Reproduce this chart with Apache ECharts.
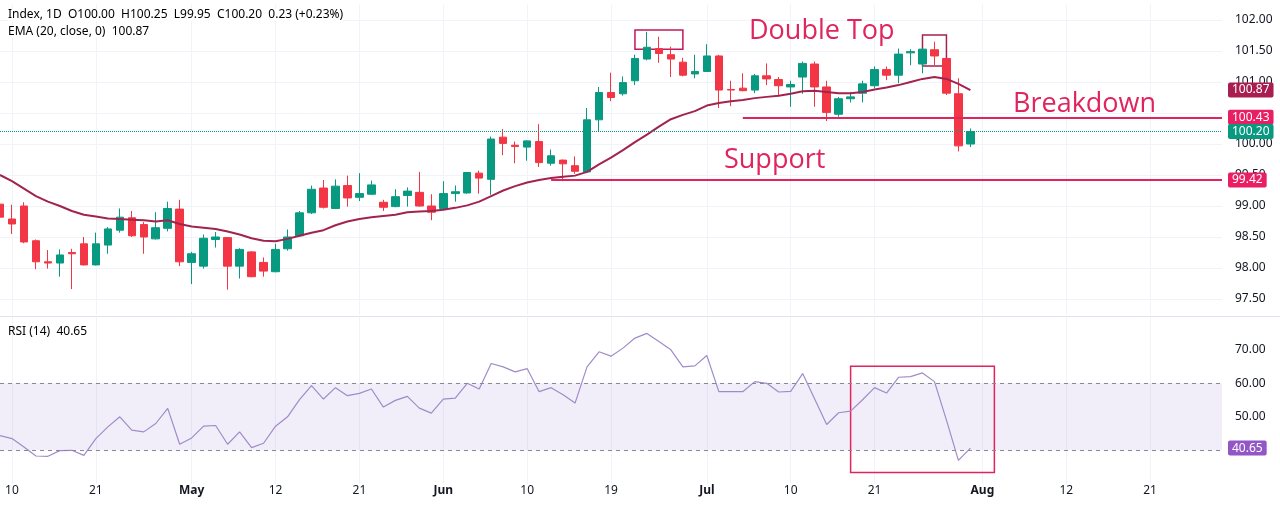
<!DOCTYPE html>
<html><head><meta charset="utf-8">
<script src="https://cdn.jsdelivr.net/npm/echarts@6/dist/echarts.min.js"></script>
<style>html,body{margin:0;padding:0;background:#fff}#c{width:1280px;height:505px}</style>
</head><body><div id="c"></div><script>
// ---- categories (trading days, 2026) ----
const dates = [
'2026-04-09','2026-04-10','2026-04-13','2026-04-14','2026-04-15','2026-04-16','2026-04-17','2026-04-20','2026-04-21','2026-04-22','2026-04-23','2026-04-24','2026-04-27','2026-04-28','2026-04-29','2026-04-30',
'2026-05-01','2026-05-04','2026-05-05','2026-05-06','2026-05-07','2026-05-08','2026-05-11','2026-05-12','2026-05-13','2026-05-14','2026-05-15','2026-05-18','2026-05-19','2026-05-20','2026-05-21','2026-05-22','2026-05-25','2026-05-26','2026-05-27','2026-05-28','2026-05-29',
'2026-06-01','2026-06-02','2026-06-03','2026-06-04','2026-06-05','2026-06-08','2026-06-09','2026-06-10','2026-06-11','2026-06-12','2026-06-15','2026-06-16','2026-06-17','2026-06-18','2026-06-19','2026-06-22','2026-06-23','2026-06-24','2026-06-25','2026-06-26','2026-06-29','2026-06-30',
'2026-07-01','2026-07-02','2026-07-03','2026-07-06','2026-07-07','2026-07-08','2026-07-09','2026-07-10','2026-07-13','2026-07-14','2026-07-15','2026-07-16','2026-07-17','2026-07-20','2026-07-21','2026-07-22','2026-07-23','2026-07-24','2026-07-27','2026-07-28','2026-07-29','2026-07-30','2026-07-31',
'2026-08-03','2026-08-04','2026-08-05','2026-08-06','2026-08-07','2026-08-10','2026-08-11','2026-08-12','2026-08-13','2026-08-14','2026-08-17','2026-08-18','2026-08-19','2026-08-20','2026-08-21','2026-08-24','2026-08-25','2026-08-26','2026-08-27','2026-08-28','2026-08-31'
];
const xLabels = {'2026-04-10':'10','2026-04-21':'21','2026-05-01':'May','2026-05-12':'12','2026-05-21':'21','2026-06-01':'Jun','2026-06-10':'10','2026-06-19':'19','2026-07-01':'Jul','2026-07-10':'10','2026-07-21':'21','2026-08-03':'Aug','2026-08-12':'12','2026-08-21':'21'};

// ---- OHLC ----
const opens  = [99.03,98.79,99.00,98.44,98.10,98.08,98.25,98.39,98.05,98.37,98.61,98.81,98.70,98.47,98.64,98.95,98.09,98.03,98.46,98.49,98.03,98.26,98.09,97.94,98.31,98.52,98.89,99.29,98.96,99.33,99.14,99.19,99.06,98.99,99.17,99.22,99.00,98.96,99.20,99.21,99.53,99.43,100.11,99.98,99.95,100.04,99.69,99.74,99.65,99.55,100.39,100.83,100.81,101.02,101.37,101.54,101.44,101.32,101.13,101.17,101.42,100.88,100.90,100.87,101.10,101.04,100.92,101.08,101.29,100.92,100.48,100.73,100.82,100.94,101.20,101.11,101.47,101.29,101.52,101.38,100.81,100.00];
const highs  = [99.06,99.02,99.06,98.46,98.29,98.30,98.31,98.50,98.57,98.66,98.96,98.92,98.74,98.90,99.07,99.10,98.26,98.54,98.58,98.50,98.32,98.27,98.17,98.39,98.62,98.92,99.33,99.42,99.43,99.49,99.53,99.41,99.10,99.27,99.30,99.55,99.19,99.40,99.33,99.55,99.57,100.12,100.24,100.04,100.06,100.32,99.91,99.75,99.80,100.58,100.92,101.15,101.09,101.44,101.81,101.73,101.57,101.39,101.44,101.61,101.44,101.02,101.14,101.13,101.30,101.08,101.02,101.33,101.33,101.02,100.76,100.84,101.02,101.25,101.25,101.54,101.53,101.54,101.65,101.39,101.06,100.25];
const lows   = [98.80,98.55,98.40,97.98,97.99,97.86,97.66,98.04,98.04,98.23,98.57,98.50,98.23,98.46,98.59,98.03,97.74,97.99,98.33,97.65,97.83,97.85,97.86,97.93,98.28,98.50,98.87,98.96,98.95,98.99,99.08,99.18,98.92,98.98,98.99,98.99,98.77,98.95,99.07,99.20,99.20,99.18,99.82,99.69,99.73,99.63,99.65,99.40,99.52,99.53,100.21,100.69,100.78,100.95,101.35,101.31,101.08,101.09,101.06,101.16,100.58,100.61,100.85,100.82,100.95,100.77,100.60,100.81,100.60,100.37,100.44,100.67,100.67,100.90,101.03,100.98,101.27,101.14,101.27,100.79,99.88,99.95];
const closes = [98.82,98.71,98.42,98.10,98.08,98.21,98.23,98.05,98.39,98.63,98.82,98.52,98.50,98.65,98.96,98.10,98.23,98.48,98.50,98.03,98.30,97.86,97.95,98.30,98.50,98.89,99.27,98.98,99.32,99.13,99.20,99.34,98.98,99.15,99.24,99.00,98.90,99.20,99.23,99.54,99.45,100.08,100.01,99.96,100.05,99.70,99.81,99.68,99.56,100.39,100.83,100.75,100.99,101.38,101.56,101.46,101.37,101.11,101.17,101.42,100.87,100.87,100.86,101.10,101.05,100.94,100.96,101.30,100.92,100.51,100.73,100.76,100.97,101.20,101.11,101.45,101.49,101.53,101.42,100.82,99.97,100.20];

// ---- indicators ----
const ema20 = [99.50,99.40,99.28,99.16,99.07,99.00,98.92,98.86,98.83,98.80,98.79,98.78,98.77,98.75,98.77,98.71,98.67,98.65,98.63,98.59,98.54,98.48,98.44,98.43,98.47,98.52,98.57,98.61,98.69,98.75,98.79,98.82,98.84,98.86,98.90,98.91,98.92,98.94,98.97,99.01,99.07,99.16,99.25,99.32,99.38,99.42,99.45,99.47,99.49,99.55,99.67,99.78,99.90,100.03,100.15,100.28,100.40,100.47,100.53,100.62,100.66,100.69,100.71,100.74,100.76,100.78,100.81,100.85,100.86,100.84,100.82,100.82,100.84,100.88,100.91,100.95,101.00,101.05,101.08,101.05,100.97,100.87];
const rsi14 = [44.4,43.5,41.0,38.3,38.2,39.9,40.0,38.5,43.5,47.0,50.0,46.0,45.5,48.0,52.5,41.8,43.7,47.2,47.4,41.8,45.5,40.8,42.1,47.2,50.0,55.1,59.3,55.3,58.7,56.3,57.0,58.3,52.9,54.9,56.1,52.6,51.1,55.3,55.6,60.0,58.3,65.9,64.9,63.4,64.4,57.5,58.7,56.6,54.1,64.9,69.4,68.1,70.5,73.5,74.9,72.5,70.0,64.9,65.2,68.3,57.5,57.5,57.5,60.5,60.0,57.4,57.6,62.9,55.3,47.7,51.2,51.7,55.1,58.7,57.1,61.8,62.0,63.1,60.5,49.0,37.0,40.65];

// ---- ticks & annotation levels ----
const priceTicks = [97.5,98,98.5,99,99.5,100,101,101.5,102];
const rsiTicks = [50,60,70];
const rsiBand = [40,60];
const supportLevel = 99.42, supportFrom = '2026-06-12';
const breakdownLevel = 100.43, breakdownFrom = '2026-07-06';
const box1 = [['2026-06-23',101.84],['2026-06-29',101.53]];
const box2 = [['2026-07-27',101.76],['2026-07-29',101.26]];
const rsiBox = [['2026-07-17',65.1],['2026-08-04',33.4]];

const GREEN='#089981', RED='#F23645', PINK='#e0245e', EMA_C='#a3234f', RSI_C='#a08bc9', RSI_LBL='#9256c6';
const CLEAR='rgba(0,0,0,0)';
const FONT='Noto Sans';
const n = closes.length;
const last = n-1;
const candles = opens.map((o,i)=>[o,closes[i],lows[i],highs[i]]);
const lastDate = dates[dates.length-1];
const chg = closes[last]-closes[last-1];
const chgPct = chg/closes[last-1]*100;

function xlab(v){const t=xLabels[v]; if(!t) return ''; return isNaN(+t)?'{b|'+t+'}':t;}
function isLab(i,v){return Object.prototype.hasOwnProperty.call(xLabels,v);}
function lvlLabel(txt,bg){return {show:true,position:'end',distance:6,formatter:()=>txt,color:'#fff',backgroundColor:bg,padding:[2,4,1,4],borderRadius:2,fontSize:12,fontFamily:FONT,opacity:1};}

const chart = echarts.init(document.getElementById('c'));
chart.setOption({
  animation:false,
  backgroundColor:'#ffffff',
  textStyle:{fontFamily:FONT},
  grid:[
    {left:0,right:58,top:4.5,height:310},
    {left:0,right:58,top:316.3,height:167.5}
  ],
  xAxis:[
    {type:'category',gridIndex:0,data:dates,boundaryGap:false,axisLine:{show:false},axisTick:{show:false},axisLabel:{show:false},
     splitLine:{show:true,interval:isLab,lineStyle:{color:'#f0f3fa',width:1}}},
    {type:'category',gridIndex:1,data:dates,boundaryGap:false,axisLine:{show:false},axisTick:{show:false},
     axisLabel:{show:true,interval:isLab,formatter:xlab,margin:1,color:'#131722',fontSize:12,fontFamily:FONT,
       rich:{b:{fontWeight:'bold',color:'#131722',fontSize:12,fontFamily:FONT}}},
     splitLine:{show:true,interval:isLab,lineStyle:{color:'#f0f3fa',width:1}}}
  ],
  yAxis:[
    {type:'value',gridIndex:0,position:'right',min:97.25,max:102.25,interval:0.25,
     axisLine:{show:false},axisTick:{show:false},
     axisLabel:{margin:13,color:'#131722',fontSize:12,fontFamily:FONT,
       formatter:v=>{const r=Math.round(v*100)/100; return priceTicks.includes(r)?r.toFixed(2):'';}},
     splitLine:{show:true,lineStyle:{color:[CLEAR,'#f0f3fa'],width:1}}},
    {type:'value',gridIndex:1,position:'right',min:30,max:80,interval:10,
     axisLine:{show:false},axisTick:{show:false},
     axisLabel:{margin:13,color:'#131722',fontSize:12,fontFamily:FONT,
       formatter:v=>rsiTicks.includes(Math.round(v))?(+v).toFixed(2):''},
     splitLine:{show:false}}
  ],
  series:[
    {type:'candlestick',xAxisIndex:0,yAxisIndex:0,data:candles,barWidth:8,
     itemStyle:{color:GREEN,color0:RED,borderColor:GREEN,borderColor0:RED,borderWidth:1},
     markLine:{silent:true,symbol:['none','none'],animation:false,
       data:[
         [{coord:[supportFrom,supportLevel],lineStyle:{color:PINK,width:2,type:'solid'},label:lvlLabel(supportLevel.toFixed(2),'#e91e63')},{coord:[lastDate,supportLevel]}],
         [{coord:[breakdownFrom,breakdownLevel],lineStyle:{color:PINK,width:2,type:'solid'},label:lvlLabel(breakdownLevel.toFixed(2),'#e91e63')},{coord:[lastDate,breakdownLevel]}],
         {yAxis:closes[last],lineStyle:{color:GREEN,width:1,type:'dotted'},label:lvlLabel(closes[last].toFixed(2),GREEN)}
       ]},
     markArea:{silent:true,
       data:[
         [{coord:box1[0],itemStyle:{color:CLEAR,borderColor:'#c2185b',borderWidth:1.5}},{coord:box1[1]}],
         [{coord:box2[0],itemStyle:{color:CLEAR,borderColor:'#a3234f',borderWidth:1.5}},{coord:box2[1]}]
       ]}
    },
    {type:'line',name:'EMA',xAxisIndex:0,yAxisIndex:0,data:ema20,symbol:'none',smooth:false,
     lineStyle:{color:EMA_C,width:2},z:3,
     markLine:{silent:true,symbol:['none','none'],
       data:[{yAxis:ema20[last],lineStyle:{color:CLEAR,width:0},label:lvlLabel(ema20[last].toFixed(2),'#a81e50')}]}},
    {type:'line',name:'RSI',xAxisIndex:1,yAxisIndex:1,data:rsi14,symbol:'none',
     lineStyle:{color:RSI_C,width:1.2},
     markArea:{silent:true,
       data:[
         [{yAxis:rsiBand[0],itemStyle:{color:'rgba(126,87,194,0.10)'}},{yAxis:rsiBand[1]}],
         [{coord:rsiBox[0],itemStyle:{color:CLEAR,borderColor:'#e0245e',borderWidth:1.5}},{coord:rsiBox[1]}]
       ]},
     markLine:{silent:true,symbol:['none','none'],
       data:[
         {yAxis:rsiBand[0],lineStyle:{color:'#868993',width:1,type:[4,4]},label:{show:false}},
         {yAxis:rsiBand[1],lineStyle:{color:'#868993',width:1,type:[4,4]},label:{show:false}},
         {yAxis:rsi14[last],lineStyle:{color:CLEAR,width:0},label:lvlLabel(rsi14[last].toFixed(2),RSI_LBL)}
       ]}}
  ],
  graphic:[
    {type:'line',z:50,shape:{x1:0,y1:316.5,x2:1280,y2:316.5},style:{stroke:'#e0e3eb',lineWidth:1},silent:true},
    {type:'text',z:100,x:8,y:15,style:{
      text:'{l|Index, 1D}  {l|O}{v|'+opens[last].toFixed(2)+'}  {l|H}{v|'+highs[last].toFixed(2)+'}  {l|L}{v|'+lows[last].toFixed(2)+'}  {l|C}{v|'+closes[last].toFixed(2)+'}  {v|'+chg.toFixed(2)+' (+'+chgPct.toFixed(2)+'%)}',
      verticalAlign:'middle',fontSize:12,fontFamily:FONT,backgroundColor:'#fff',
      rich:{l:{color:'#131722',fontSize:12,fontFamily:FONT},v:{color:GREEN,fontSize:12,fontFamily:FONT}}}},
    {type:'text',z:100,x:8,y:32,style:{
      text:'{l|EMA (20, close, 0)}  {e|'+ema20[last].toFixed(2)+'}',verticalAlign:'middle',fontSize:12,fontFamily:FONT,backgroundColor:'#fff',
      rich:{l:{color:'#131722',fontSize:12,fontFamily:FONT},e:{color:'#a81e50',fontSize:12,fontFamily:FONT}}}},
    {type:'text',z:100,x:8,y:332,style:{
      text:'{l|RSI (14)}  {r|'+rsi14[last].toFixed(2)+'}',verticalAlign:'middle',fontSize:12,fontFamily:FONT,
      rich:{l:{color:'#131722',fontSize:12,fontFamily:FONT},r:{color:'#9c6fcf',fontSize:12,fontFamily:FONT}}}},
    {type:'text',z:100,x:749,y:31,style:{text:'Double Top',fill:PINK,fontSize:27,fontFamily:'Open Sans',verticalAlign:'middle'}},
    {type:'text',z:100,x:1013,y:104,style:{text:'Breakdown',fill:PINK,fontSize:27,fontFamily:'Open Sans',verticalAlign:'middle'}},
    {type:'text',z:100,x:724,y:160,style:{text:'Support',fill:PINK,fontSize:27,fontFamily:'Open Sans',verticalAlign:'middle'}}
  ]
});
</script></body></html>
